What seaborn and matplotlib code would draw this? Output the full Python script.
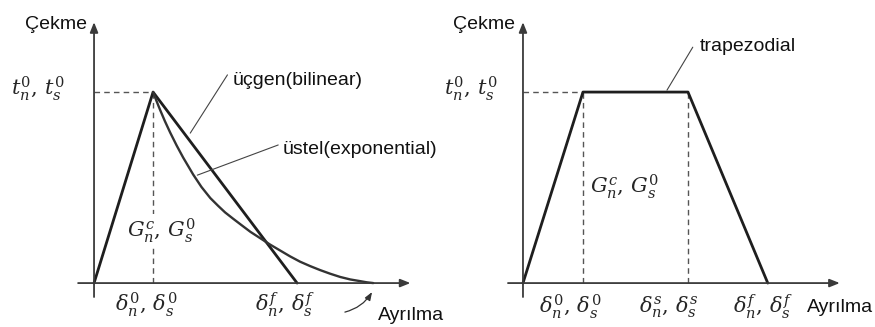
import matplotlib
matplotlib.use("Agg")
import matplotlib.pyplot as plt
import seaborn as sns

sns.set_theme(style="white")
plt.rcParams["font.family"] = ["Liberation Sans", "DejaVu Sans"]
plt.rcParams["mathtext.fontset"] = "dejavuserif"

# Normalised traction-separation laws (separation / delta0, traction / t0)
bilinear_sep = [0.0, 1.0, 3.44]
bilinear_trac = [0.0, 1.0, 0.0]

exp_sep = [1.0, 1.06, 1.12, 1.20, 1.29, 1.40, 1.51, 1.60, 1.68, 1.82, 1.97, 2.10, 2.22,
           2.36, 2.50, 2.65, 2.81, 2.98, 3.15, 3.32, 3.49, 3.66, 3.83, 4.00, 4.17, 4.34,
           4.51, 4.62, 4.73]
exp_trac = [1.0, 0.952, 0.906, 0.848, 0.788, 0.720, 0.657, 0.610, 0.568, 0.503, 0.445,
            0.405, 0.370, 0.336, 0.303, 0.268, 0.236, 0.202, 0.171, 0.140, 0.112, 0.089,
            0.068, 0.049, 0.032, 0.019, 0.010, 0.004, 0.0]

trap_sep = [0.0, 1.0, 2.75, 4.08]
trap_trac = [0.0, 1.0, 1.0, 0.0]

left_ticks = [(0.88, r"$\delta_n^0,\,\delta_s^0$"), (3.24, r"$\delta_n^f,\,\delta_s^f$")]
right_ticks = [(0.78, r"$\delta_n^0,\,\delta_s^0$"), (2.43, r"$\delta_n^s,\,\delta_s^s$"),
               (4.00, r"$\delta_n^f,\,\delta_s^f$")]

W, H = 875, 327
fig = plt.figure(figsize=(W / 100, H / 100), dpi=100)
ax1 = fig.add_axes([0, 0, 437 / W, 1])
ax2 = fig.add_axes([437 / W, 0, 438 / W, 1])

ylim = (-0.230, 1.482)
ax1.set_xlim(-1.593, 5.81)
ax2.set_xlim(-1.433, 5.867)
for ax in (ax1, ax2):
    ax.set_ylim(*ylim)
    ax.axis("off")

LINE = "#1e1e1e"
AXC = "#3a3a3a"
DASH = "#555555"
TXT = "#111111"
TXT_SIZE = 14
MATH_SIZE = 15


def draw_axes(ax, x0, x1, y0=-0.073, y1=1.366):
    arrow = dict(arrowstyle="-|>,head_length=0.5,head_width=0.2", color=AXC, lw=1.3,
                 shrinkA=0, shrinkB=0)
    ax.annotate("", xy=(x1, 0), xytext=(x0, 0), arrowprops=arrow)
    ax.annotate("", xy=(0, y1), xytext=(0, y0), arrowprops=arrow)


# ---- left panel: bilinear and exponential laws ----
draw_axes(ax1, -0.27, 5.36)
ax1.plot([0, 1.0], [1.0, 1.0], ls=(0, (4, 3)), color=DASH, lw=1.0)
ax1.plot([1.0, 1.0], [0, 1.0], ls=(0, (4, 3)), color=DASH, lw=1.0)
sns.lineplot(x=bilinear_sep, y=bilinear_trac, ax=ax1, color=LINE, lw=2.0, sort=False,
             estimator=None)
sns.lineplot(x=exp_sep, y=exp_trac, ax=ax1, color="#333333", lw=1.7, sort=False,
             estimator=None)

ax1.plot([1.63, 2.26], [0.785, 1.09], color="#444444", lw=0.8)
ax1.text(2.34, 1.063, "üçgen(bilinear)", fontsize=TXT_SIZE, ha="left", va="center",
         color=TXT)
ax1.plot([1.75, 3.12], [0.565, 0.723], color="#444444", lw=0.8)
ax1.text(3.2, 0.697, "üstel(exponential)", fontsize=TXT_SIZE, ha="left", va="center",
         color=TXT)

ax1.text(-0.12, 1.356, "Çekme", fontsize=TXT_SIZE, ha="right", va="center", color=TXT)
ax1.text(-0.49, 1.02, r"$t_n^0,\,t_s^0$", fontsize=MATH_SIZE, ha="right", va="center")
ax1.text(1.15, 0.277, r"$G_n^c,\,G_s^0$", fontsize=MATH_SIZE, ha="center", va="center",
         bbox=dict(facecolor="white", edgecolor="none", pad=1.0), zorder=5)
for xv, lab in left_ticks:
    ax1.text(xv, -0.115, lab, fontsize=MATH_SIZE, ha="center", va="center")
ax1.text(4.81, -0.168, "Ayrılma", fontsize=TXT_SIZE, ha="left", va="center",
         color=TXT, clip_on=False)
ax1.annotate("", xy=(4.71, -0.047), xytext=(4.25, -0.152),
             arrowprops=dict(arrowstyle="-|>,head_length=0.4,head_width=0.15",
                             color="#333333", lw=0.9, connectionstyle="arc3,rad=0.2",
                             shrinkA=0, shrinkB=0))

# ---- right panel: trapezoidal law ----
draw_axes(ax2, -0.25, 5.28)
ax2.plot([0, 1.0], [1.0, 1.0], ls=(0, (4, 3)), color=DASH, lw=1.0)
ax2.plot([1.0, 1.0], [0, 1.0], ls=(0, (4, 3)), color=DASH, lw=1.0)
ax2.plot([2.75, 2.75], [0, 1.0], ls=(0, (4, 3)), color=DASH, lw=1.0)
sns.lineplot(x=trap_sep, y=trap_trac, ax=ax2, color=LINE, lw=2.0, sort=False,
             estimator=None)

ax2.plot([2.4, 2.83], [1.01, 1.235], color="#444444", lw=0.8)
ax2.text(2.95, 1.236, "trapezodial", fontsize=TXT_SIZE, ha="left", va="center", color=TXT)
ax2.text(-0.13, 1.356, "Çekme", fontsize=TXT_SIZE, ha="right", va="center", color=TXT)
ax2.text(-0.42, 1.02, r"$t_n^0,\,t_s^0$", fontsize=MATH_SIZE, ha="right", va="center")
ax2.text(1.7, 0.503, r"$G_n^c,\,G_s^0$", fontsize=MATH_SIZE, ha="center", va="center")
for xv, lab in right_ticks:
    ax2.text(xv, -0.126, lab, fontsize=MATH_SIZE, ha="center", va="center")
ax2.text(4.73, -0.13, "Ayrılma", fontsize=TXT_SIZE, ha="left", va="center", color=TXT)

fig.savefig("out.png", dpi=100)
